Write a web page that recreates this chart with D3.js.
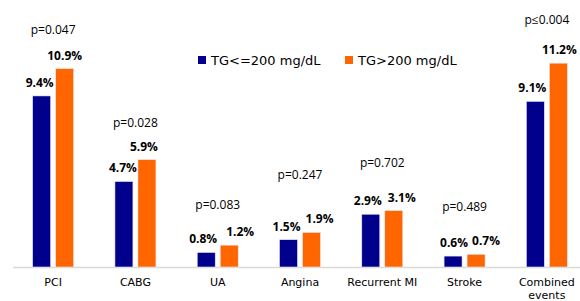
<!DOCTYPE html>
<html>
<head>
<meta charset="utf-8">
<script src="https://cdn.jsdelivr.net/npm/d3@7"></script>
<style>
  body { margin: 0; background: #fff; }
  svg text { font-family: "DejaVu Sans", Verdana, sans-serif; fill: #000; }
  svg text.num { font-family: "Open Sans", Lato, sans-serif; }
</style>
</head>
<body>
<div id="chart"></div>
<script>
// Data
const categories = ['PCI', 'CABG', 'UA', 'Angina', 'Recurrent MI', 'Stroke', 'Combined\nevents'];
const lowTG = [9.4, 4.7, 0.8, 1.5, 2.9, 0.6, 9.1];
const highTG = [10.9, 5.9, 1.2, 1.9, 3.1, 0.7, 11.2];
const pValues = ['p=0.047', 'p=0.028', 'p=0.083', 'p=0.247', 'p=0.702', 'p=0.489', 'p\u22640.004'];
const seriesNames = ['TG<=200 mg/dL', 'TG>200 mg/dL'];

// Layout tweaks: gap between taller bar and p-value label, horizontal nudges of value labels
const pOffsets = [35, 33, 36, 53, 44, 43, 39];
const labelShifts = [
    [-2, -1, -3, -2, -3, 1, -3],
    [0, -3, 11, 8, 8, 10, 1]
];
const colors = ['#00008c', '#ff6600'];

const width = 580, height = 301;
const baseY = 267;

const svg = d3.select('#chart')
    .append('svg')
    .attr('width', width)
    .attr('height', height);

const x = d3.scaleBand()
    .domain(categories)
    .range([12, 588])
    .paddingInner(0)
    .paddingOuter(0);

const y = d3.scaleLinear()
    .domain([0, 10])
    .range([baseY, baseY - 182]);

const barW = 18, gap = 5;

// Axis line
svg.append('line')
    .attr('x1', 13).attr('x2', 580)
    .attr('y1', baseY + 0.5).attr('y2', baseY + 0.5)
    .style('stroke', '#d9d9d9')
    .style('stroke-width', 1.5);

const groups = svg.selectAll('.cat')
    .data(categories)
    .enter()
    .append('g')
    .attr('class', 'cat')
    .attr('transform', d => `translate(${x(d) + x.bandwidth() / 2}, 0)`);

// Bars + value labels
[lowTG, highTG].forEach((series, s) => {
    const dx = s === 0 ? -barW - gap / 2 : gap / 2;
    groups.append('rect')
        .attr('x', dx)
        .attr('width', barW)
        .attr('y', (d, i) => y(series[i]))
        .attr('height', (d, i) => baseY - y(series[i]))
        .style('fill', colors[s])
        .style('stroke', '#e8e8f4')
        .style('stroke-width', 0.6);

    groups.append('text')
        .attr('class', 'num')
        .attr('x', (d, i) => dx + barW / 2 + labelShifts[s][i])
        .attr('y', (d, i) => y(series[i]) - 9)
        .attr('text-anchor', 'middle')
        .style('font-size', '12px')
        .style('font-weight', 'bold')
        .text((d, i) => series[i].toFixed(1) + '%');
});

// p-values
groups.append('text')
    .attr('class', 'num')
    .attr('x', 0)
    .attr('y', (d, i) => y(Math.max(lowTG[i], highTG[i])) - pOffsets[i])
    .attr('text-anchor', 'middle')
    .style('font-size', '12px')
    .text((d, i) => pValues[i]);

// Category labels
groups.append('text')
    .attr('text-anchor', 'middle')
    .attr('y', 286)
    .style('font-size', '11px')
    .each(function (d) {
        const lines = d.split('\n');
        d3.select(this).selectAll('tspan')
            .data(lines)
            .enter()
            .append('tspan')
            .attr('x', 0)
            .attr('dy', (l, j) => j === 0 ? 0 : 13)
            .text(l => l);
    });

// Legend
const legendX = [198, 345];
seriesNames.forEach((name, i) => {
    const g = svg.append('g')
        .attr('transform', `translate(${legendX[i]}, 60)`);
    g.append('rect')
        .attr('x', 0).attr('y', -4)
        .attr('width', 8).attr('height', 8)
        .style('fill', colors[i]);
    g.append('text')
        .attr('x', 13)
        .attr('y', 5)
        .style('font-size', '13px')
        .text(name);
});
</script>
</body>
</html>
